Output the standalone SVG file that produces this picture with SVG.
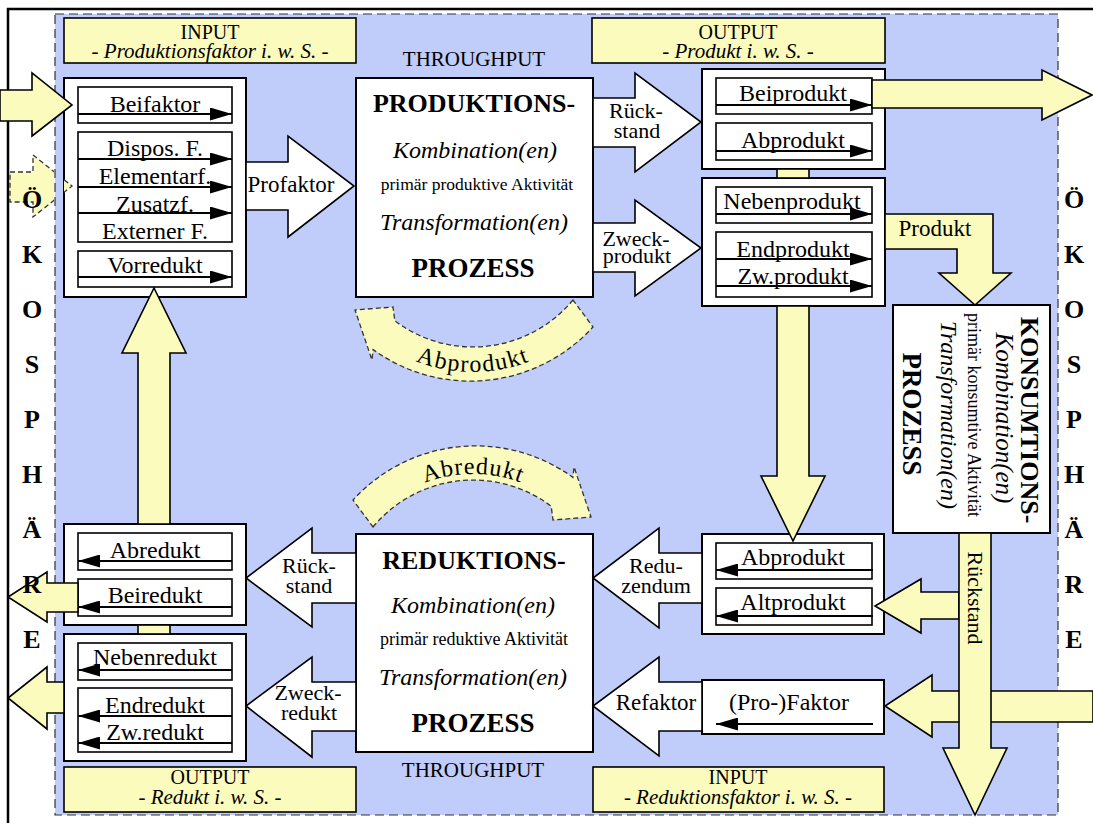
<svg xmlns="http://www.w3.org/2000/svg" width="1093" height="823" viewBox="0 0 1093 823">
<style>
.t{font-family:"Liberation Serif","Times New Roman",serif;fill:#000}
.c{text-anchor:middle}
.i{font-style:italic}
.b{font-weight:bold}
.box{fill:#fff;stroke:#000;stroke-width:2}
.ibox{fill:#fff;stroke:#000;stroke-width:1.6}
.lbl{fill:#fbfbbd;stroke:#000;stroke-width:1.6}
.ya{fill:#fbfbbd;stroke:#000;stroke-width:1.6}
.wa{fill:#fff;stroke:#000;stroke-width:1.6}
.ln{stroke:#000;stroke-width:2;fill:none}
.lr{marker-end:url(#ah)}
.dash{fill:#fbfbbd;stroke:#333;stroke-width:1.3;stroke-dasharray:5,3}
</style>
<defs>
<marker id="ah" viewBox="0 0 22 13" refX="22" refY="6.5" markerWidth="22" markerHeight="13" orient="auto" markerUnits="userSpaceOnUse"><path d="M0,0 L22,6.5 L0,13 z" fill="#000"/></marker>
<path id="curve" class="dash" d="M573,300 A130,130 0 0,1 394.8,320.8 L393,307 L355,310 L372,360 L373.1,349.6 A166,166 0 0,0 593,327 Z"/>
<path id="tp1" d="M338.8,294.5 A155,155 0 0,0 607.2,294.5" fill="none"/>
<path id="tp2" d="M355.2,542 A136,136 0 0,1 590.8,542" fill="none"/>
<clipPath id="clipL"><rect x="0" y="140" width="54" height="100"/><rect x="64" y="140" width="40" height="100"/></clipPath>
</defs>
<rect width="1093" height="823" fill="#fff"/>
<line x1="7" y1="9" x2="1093" y2="9" stroke="#000" stroke-width="2.5"/>
<line x1="8" y1="8" x2="8" y2="823" stroke="#000" stroke-width="2.5"/>
<rect x="55" y="14" width="1003" height="801" fill="#c0ccfa" stroke="#333" stroke-width="1.2" stroke-dasharray="9,5"/>

<g id="label-input-top">
<rect class="lbl" x="64" y="18" width="292" height="45"/>
<text class="t c" x="210" y="39" font-size="20">INPUT</text>
<text class="t c i" x="210" y="58" font-size="21">- Produktionsfaktor i. w. S. -</text>
</g>
<g id="label-output-top">
<rect class="lbl" x="592" y="18" width="293" height="45"/>
<text class="t c" x="738" y="39" font-size="20">OUTPUT</text>
<text class="t c i" x="738" y="58" font-size="21">- Produkt i. w. S. -</text>
</g>
<g id="label-output-bottom">
<rect class="lbl" x="64" y="767" width="292" height="45"/>
<text class="t c" x="210" y="784" font-size="20">OUTPUT</text>
<text class="t c i" x="210" y="804" font-size="21">- Redukt i. w. S. -</text>
</g>
<g id="label-input-bottom">
<rect class="lbl" x="593" y="767" width="291" height="45"/>
<text class="t c" x="738" y="784" font-size="20">INPUT</text>
<text class="t c i" x="738" y="804" font-size="21">- Reduktionsfaktor i. w. S. -</text>
</g>
<text class="t c" x="474" y="66" font-size="21">THROUGHPUT</text>
<text class="t c" x="473" y="777" font-size="21">THROUGHPUT</text>

<g id="produktionsfaktoren">
<rect class="box" x="64" y="78" width="182" height="219"/>
<rect class="ibox" x="78" y="87" width="154" height="36"/>
<text class="t c" x="155" y="112" font-size="24">Beifaktor</text>
<line class="ln lr" x1="78" y1="114" x2="232" y2="114"/>
<rect class="ibox" x="78" y="132" width="154" height="110"/>
<text class="t c" x="155" y="156" font-size="24">Dispos. F.</text>
<line class="ln lr" x1="78" y1="159" x2="232" y2="159"/>
<text class="t c" x="155" y="184" font-size="24">Elementarf.</text>
<line class="ln lr" x1="78" y1="187" x2="232" y2="187"/>
<text class="t c" x="155" y="212" font-size="24">Zusatzf.</text>
<line class="ln lr" x1="78" y1="213" x2="232" y2="213"/>
<text class="t c" x="155" y="239" font-size="24">Externer F.</text>
<rect class="ibox" x="78" y="251" width="154" height="36"/>
<text class="t c" x="155" y="273" font-size="24">Vorredukt</text>
<line class="ln lr" x1="78" y1="277" x2="232" y2="277"/>
</g>

<g id="produktionsprozess">
<rect class="box" x="356" y="78" width="237" height="219"/>
<text class="t c b" x="474" y="112" font-size="26">PRODUKTIONS-</text>
<text class="t c i" x="475" y="158" font-size="24">Kombination(en)</text>
<text class="t c" x="477" y="190" font-size="17.5">primär produktive Aktivität</text>
<text class="t c i" x="474" y="230" font-size="24">Transformation(en)</text>
<text class="t c b" x="473" y="277" font-size="27">PROZESS</text>
</g>

<g id="output-top">
<rect class="box" x="702" y="69" width="183" height="100"/>
<rect class="ibox" x="716" y="78" width="156" height="36"/>
<text class="t c" x="793" y="101" font-size="24">Beiprodukt</text>
<line class="ln lr" x1="716" y1="105" x2="872" y2="105"/>
<rect class="ibox" x="716" y="123" width="156" height="37"/>
<text class="t c" x="793" y="148" font-size="24">Abprodukt</text>
<line class="ln lr" x1="716" y1="151" x2="872" y2="151"/>
</g>

<g id="output-mid">
<rect class="box" x="702" y="178" width="183" height="128"/>
<rect class="ibox" x="716" y="187" width="156" height="36"/>
<text class="t c" x="792" y="209" font-size="24">Nebenprodukt</text>
<line class="ln lr" x1="716" y1="214" x2="872" y2="214"/>
<rect class="ibox" x="716" y="232" width="156" height="65"/>
<text class="t c" x="793" y="257" font-size="24">Endprodukt</text>
<line class="ln lr" x1="716" y1="259" x2="872" y2="259"/>
<text class="t c" x="793" y="284" font-size="24">Zw.produkt</text>
<line class="ln lr" x1="716" y1="286" x2="872" y2="286"/>
</g>

<g id="konsumtionsprozess">
<rect class="box" x="893" y="305" width="157" height="228"/>
<text class="t c b" font-size="26" transform="translate(1021,420) rotate(90)">KONSUMTIONS-</text>
<text class="t c i" font-size="25" transform="translate(996,418) rotate(90)">Kombination(en)</text>
<text class="t c" font-size="18" transform="translate(968,415) rotate(90)">primär konsumtive Aktivität</text>
<text class="t c i" font-size="24" transform="translate(941,415) rotate(90)">Transformation(en)</text>
<text class="t c b" font-size="27" transform="translate(903,414) rotate(90)">PROZESS</text>
</g>

<g id="reduktionsprozess">
<rect class="box" x="356" y="534" width="237" height="218"/>
<text class="t c b" x="474" y="569" font-size="26">REDUKTIONS-</text>
<text class="t c i" x="473" y="613" font-size="24">Kombination(en)</text>
<text class="t c" x="474" y="645" font-size="18">primär reduktive Aktivität</text>
<text class="t c i" x="473" y="685" font-size="24">Transformation(en)</text>
<text class="t c b" x="473" y="732" font-size="27">PROZESS</text>
</g>

<g id="redukt-top">
<rect class="box" x="64" y="524" width="182" height="101"/>
<rect class="ibox" x="78" y="533" width="154" height="37"/>
<text class="t c" x="155" y="558" font-size="24">Abredukt</text>
<line class="ln lr" x1="232" y1="561" x2="78" y2="561"/>
<rect class="ibox" x="78" y="579" width="154" height="37"/>
<text class="t c" x="155" y="603" font-size="24">Beiredukt</text>
<line class="ln lr" x1="232" y1="607" x2="78" y2="607"/>
</g>

<g id="redukt-bottom">
<rect class="box" x="64" y="634" width="182" height="127"/>
<rect class="ibox" x="78" y="643" width="154" height="37"/>
<text class="t c" x="155" y="665" font-size="24">Nebenredukt</text>
<line class="ln lr" x1="232" y1="670" x2="78" y2="670"/>
<rect class="ibox" x="78" y="688" width="154" height="64"/>
<text class="t c" x="155" y="713" font-size="24">Endredukt</text>
<line class="ln lr" x1="232" y1="716" x2="78" y2="716"/>
<text class="t c" x="155" y="740" font-size="24">Zw.redukt</text>
<line class="ln lr" x1="232" y1="743" x2="78" y2="743"/>
</g>

<g id="reduzendum">
<rect class="box" x="702" y="534" width="182" height="100"/>
<rect class="ibox" x="716" y="543" width="156" height="36"/>
<text class="t c" x="793" y="565" font-size="24">Abprodukt</text>
<line class="ln lr" x1="873" y1="570" x2="716" y2="570"/>
<rect class="ibox" x="716" y="588" width="156" height="37"/>
<text class="t c" x="793" y="610" font-size="24">Altprodukt</text>
<line class="ln lr" x1="873" y1="616" x2="716" y2="616"/>
</g>

<g id="profaktor-box">
<rect class="box" x="702" y="680" width="182" height="54"/>
<text class="t c" x="789" y="710" font-size="24">(Pro-)Faktor</text>
<line class="ln lr" x1="873" y1="724" x2="716" y2="724"/>
</g>

<g id="connectors">
<polygon class="wa" points="246,162 288,162 288,136 354,186 288,237 288,210 246,210"/>
<text class="t c" x="291" y="192" font-size="23">Profaktor</text>
<polygon class="wa" points="593,98 635,98 635,73 701,122 635,172 635,147 593,147"/>
<text class="t c" x="636" y="118" font-size="22">Rück-</text>
<text class="t c" x="637" y="138" font-size="22">stand</text>
<polygon class="wa" points="593,223 635,223 635,200 701,248 635,296 635,272 593,272"/>
<text class="t c" x="636" y="246" font-size="22">Zweck-</text>
<text class="t c" x="637" y="263" font-size="22">produkt</text>
<polygon class="wa" points="356,553 312,553 312,528 246,578 312,627 312,603 356,603"/>
<text class="t c" x="309" y="573" font-size="22">Rück-</text>
<text class="t c" x="309" y="593" font-size="22">stand</text>
<polygon class="wa" points="356,682 312,682 312,657 246,706 312,757 312,731 356,731"/>
<text class="t c" x="308" y="700" font-size="22">Zweck-</text>
<text class="t c" x="309" y="720" font-size="22">redukt</text>
<polygon class="wa" points="702,553 659,553 659,528 593,578 659,628 659,603 702,603"/>
<text class="t c" x="656" y="573" font-size="22">Redu-</text>
<text class="t c" x="656" y="593" font-size="22">zendum</text>
<polygon class="wa" points="702,682 659,682 659,657 593,706 659,756 659,731 702,731"/>
<text class="t c" x="656" y="710" font-size="23">Refaktor</text>

<polygon class="ya" points="0,90 32,90 32,73 72,105 32,136 32,121 0,121"/>
<polygon class="dash" clip-path="url(#clipL)" points="10,172 33,172 33,155 72,186 33,217 33,202 10,202"/>
<polygon class="ya" points="872,80 1042,80 1042,70 1092,95 1042,120 1042,108 872,108"/>
<polygon class="ya" points="885,214 993,214 993,273 1011,273 975,305 939,273 957,273 957,249 885,249"/>
<text class="t c" x="935" y="236" font-size="23">Produkt</text>
<rect class="ya" x="777" y="169" width="32" height="9"/>
<polygon class="ya" points="777,306 809,306 809,476 825,476 793,541 761,476 777,476"/>
<rect class="ya" x="138" y="625" width="32" height="9"/>
<polygon class="ya" points="138,524 170,524 170,353 186,353 154,288 122,353 138,353"/>
<polygon class="ya" points="78,583 47,583 47,572 8,597 47,622 47,612 78,612"/>
<polygon class="ya" points="64,682 47,682 47,667 8,698 47,729 47,713 64,713"/>
<polygon class="ya" points="1093,691 932,691 932,675 885,706 932,737 932,722 1093,722"/>
<polygon class="ya" points="959,592 921,592 921,579 875,606 921,633 921,619 959,619"/>
<polygon class="ya" points="959,533 991,533 991,748 1007,748 975,815 943,748 959,748"/>
<text class="t c" font-size="22" transform="translate(968,598) rotate(90)">Rückstand</text>

<use href="#curve"/>
<use href="#curve" transform="rotate(180 473 413.5)"/>
<text class="t" font-size="24" letter-spacing="1.5"><textPath href="#tp1" startOffset="50%" text-anchor="middle">Abprodukt</textPath></text>
<text class="t" font-size="24" letter-spacing="1"><textPath href="#tp2" startOffset="50%" text-anchor="middle">Abredukt</textPath></text>
</g>

<g id="oekosphaere-left" class="t b" font-size="26" text-anchor="middle">
<text x="32" y="208">Ö</text><text x="32" y="263">K</text><text x="32" y="318">O</text><text x="32" y="373">S</text><text x="32" y="428">P</text><text x="32" y="483">H</text><text x="32" y="538">Ä</text><text x="32" y="593">R</text><text x="32" y="648">E</text>
</g>
<g id="oekosphaere-right" class="t b" font-size="26" text-anchor="middle">
<text x="1074" y="208">Ö</text><text x="1074" y="263">K</text><text x="1074" y="318">O</text><text x="1074" y="373">S</text><text x="1074" y="428">P</text><text x="1074" y="483">H</text><text x="1074" y="538">Ä</text><text x="1074" y="593">R</text><text x="1074" y="648">E</text>
</g>
</svg>
